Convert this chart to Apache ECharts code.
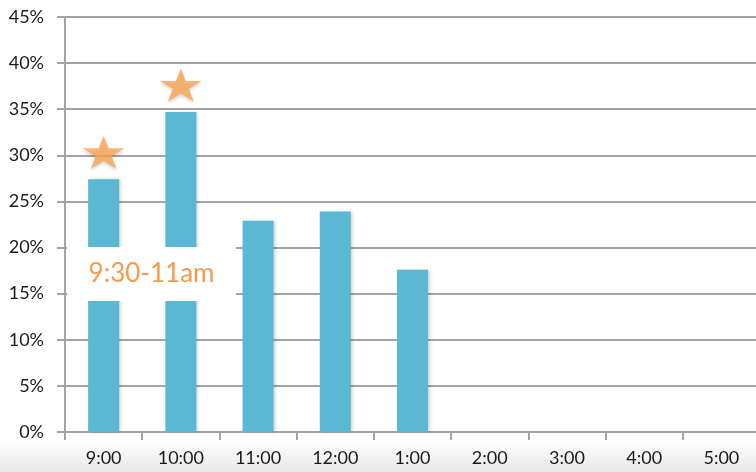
<!DOCTYPE html>
<html>
<head>
<meta charset="utf-8">
<script src="https://cdn.jsdelivr.net/npm/echarts@6/dist/echarts.min.js"></script>
<style>
html,body{margin:0;padding:0;background:#fff;}
#chart{width:756px;height:472px;}
</style>
</head>
<body>
<div id="chart"></div>
<script>
const categories = ['9:00','10:00','11:00','12:00','1:00','2:00','3:00','4:00','5:00'];
const shares = [27.4, 34.7, 22.9, 23.9, 17.6, null, null, null, null];
const starred = [27.4, 34.7, null, null, null, null, null, null, null];
const yTicks = [0, 5, 10, 15, 20, 25, 30, 35, 40, 45];
const noteText = '9:30-11am';

const STAR = 'path://M50,0 L61.8,36 L100,36 L69,58.5 L80.9,95 L50,72.5 L19.1,95 L31,58.5 L0,36 L38.2,36 Z';
const FONT = 'Lato';

const chart = echarts.init(document.getElementById('chart'), null, {renderer: 'canvas'});
chart.setOption({
  animation: false,
  backgroundColor: '#ffffff',
  grid: {left: 65, width: 695, top: 17, bottom: 40, containLabel: false, outerBoundsMode: 'none'},
  graphic: [
    {
      type: 'rect', z: -10, silent: true,
      shape: {x: 0, y: 438, width: 756, height: 34},
      style: {fill: new echarts.graphic.LinearGradient(0, 0, 0, 1, [
        {offset: 0, color: '#ffffff'}, {offset: 1, color: '#e9e9e9'}])}
    },
    {type: 'rect', z: 100, silent: true,
     shape: {x: 67, y: 247, width: 169, height: 54},
     style: {fill: '#ffffff'}},
    {type: 'text', z: 101, silent: true, x: 151.5, y: 274,
     style: {text: noteText, fill: '#F79A4C', font: '26px ' + FONT,
             textAlign: 'center', textVerticalAlign: 'middle'}}
  ],
  xAxis: {
    type: 'category',
    data: categories,
    boundaryGap: true,
    axisLine: {lineStyle: {color: '#a3a3a3', width: 2}},
    axisTick: {show: true, length: 8, alignWithLabel: false, lineStyle: {color: '#a3a3a3', width: 2}},
    axisLabel: {color: '#1a1a1a', fontSize: 18, fontFamily: FONT, margin: 17, interval: 0},
    splitLine: {show: false}
  },
  yAxis: {
    type: 'value',
    min: yTicks[0],
    max: yTicks[yTicks.length - 1],
    interval: yTicks[1] - yTicks[0],
    axisLine: {show: true, lineStyle: {color: '#a3a3a3', width: 2}},
    axisTick: {show: true, length: 8, lineStyle: {color: '#a3a3a3', width: 2}},
    axisLabel: {color: '#1a1a1a', fontSize: 18, fontFamily: FONT, margin: 21,
                formatter: v => v + '%'},
    splitLine: {show: true, lineStyle: {color: '#a3a3a3', width: 2}}
  },
  series: [
    {
      type: 'bar',
      data: shares,
      barWidth: 31,
      itemStyle: {color: '#5BB8D2', shadowColor: 'rgba(0,0,0,0.18)', shadowBlur: 3, shadowOffsetX: 2}
    },
    {
      type: 'scatter',
      data: starred,
      symbol: STAR,
      symbolSize: [42, 33],
      symbolOffset: [0, -27],
      itemStyle: {color: '#F9A552', shadowColor: 'rgba(0,0,0,0.2)', shadowBlur: 3, shadowOffsetY: 2},
      z: 5
    }
  ]
});
</script>
</body>
</html>
